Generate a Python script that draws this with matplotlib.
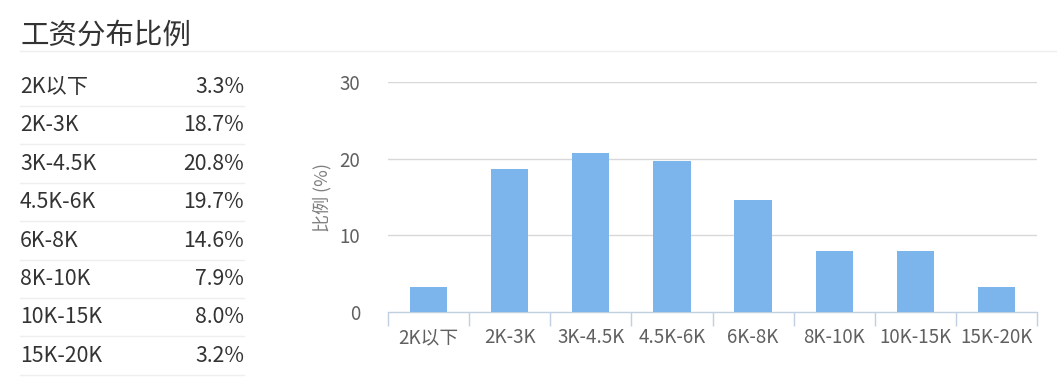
import matplotlib.pyplot as plt
import numpy as np

plt.rcParams['font.family'] = ['Noto Sans CJK SC', 'DejaVu Sans']

categories = ['2K以下', '2K-3K', '3K-4.5K', '4.5K-6K', '6K-8K', '8K-10K', '10K-15K', '15K-20K']
ratios = [3.3, 18.7, 20.8, 19.7, 14.6, 7.9, 8.0, 3.2]
yticks = [0, 10, 20, 30]

W, H = 1057, 385
fig = plt.figure(figsize=(W / 100, H / 100), dpi=100)

# title + separator
fig.text(20 / W, 1 - 36 / H, '工资分布比例', fontsize=20.5, color='#333333', va='center', ha='left')
fig.add_artist(plt.Line2D([20 / W, 1], [1 - 51 / H] * 2, color='#eeeeee', lw=1))

# left table
row_h = 38.4
for i, (c, v) in enumerate(zip(categories, ratios)):
    yc = 87 + i * row_h
    fig.text(20 / W, 1 - yc / H, c, fontsize=15.3, color='#333333', va='center', ha='left')
    fig.text(244 / W, 1 - yc / H, f'{v:.1f}%', fontsize=15.3, color='#333333', va='center', ha='right')
    ys = 1 - (yc + 19) / H
    fig.add_artist(plt.Line2D([20 / W, 244 / W], [ys, ys], color='#eeeeee', lw=1))

# bar chart
ax = fig.add_axes([388 / W, 1 - 312 / H, 649 / W, 230 / H])
x = np.arange(len(categories))
ax.bar(x, ratios, width=0.46, color='#7cb5ec', zorder=3)
ax.set_xlim(-0.5, len(categories) - 0.5)
ax.set_ylim(0, 30)
ax.set_yticks(yticks)
ax.set_yticklabels([str(t) for t in yticks])
for t in yticks[1:]:
    ax.axhline(t, color='#d8d8d8', lw=1, zorder=1)
for s in ['top', 'right', 'left']:
    ax.spines[s].set_visible(False)
ax.spines['bottom'].set_color('#c0d0e0')
ax.spines['bottom'].set_linewidth(1)
ax.set_xticks(x)
ax.set_xticklabels(categories)
ax.set_xticks(np.arange(len(categories) + 1) - 0.5, minor=True)
ax.tick_params(axis='x', which='major', length=0, pad=11, labelsize=13.5, labelcolor='#606060')
ax.tick_params(axis='x', which='minor', length=10, color='#c0d0e0', width=1)
ax.tick_params(axis='y', length=0, pad=20, labelsize=13.5, labelcolor='#606060')
ax.set_ylabel('比例 (%)', fontsize=13, color='#808080', labelpad=6)

fig.savefig('out.png', dpi=100)
